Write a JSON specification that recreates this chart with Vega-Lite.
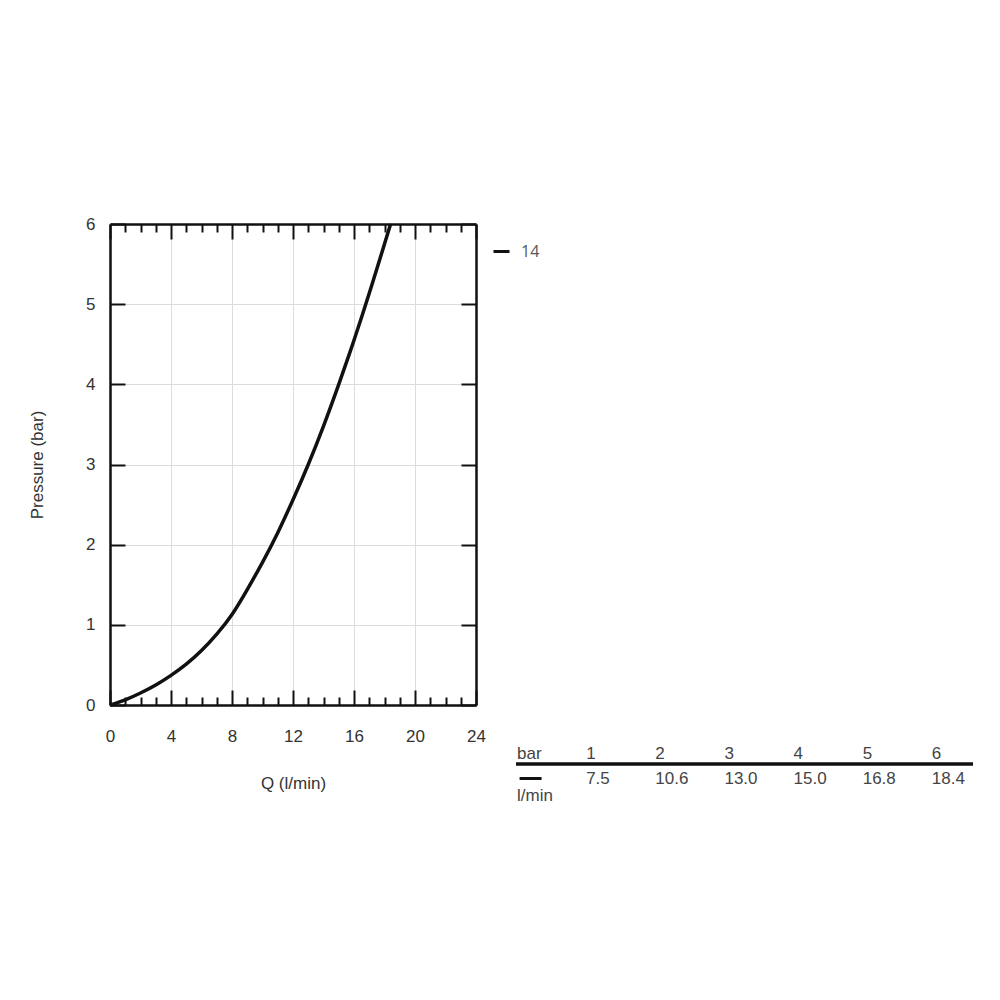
{
  "$schema": "https://vega.github.io/schema/vega-lite/v6.json",
  "background": "white",
  "padding": {"left": 28, "top": 215, "right": 0, "bottom": 0},
  "bounds": "flush",
  "spacing": 40,
  "config": {
    "font": "Liberation Sans",
    "view": {"stroke": null}
  },
  "hconcat": [
    {
      "width": 366,
      "height": 481,
      "data": {
        "values": [
          {"Q": 0, "P": 0, "series": "14"},
          {"Q": 1, "P": 0.065, "series": "14"},
          {"Q": 2, "P": 0.15, "series": "14"},
          {"Q": 3, "P": 0.25, "series": "14"},
          {"Q": 4, "P": 0.37, "series": "14"},
          {"Q": 5, "P": 0.51, "series": "14"},
          {"Q": 6, "P": 0.68, "series": "14"},
          {"Q": 7, "P": 0.885, "series": "14"},
          {"Q": 8, "P": 1.13, "series": "14"},
          {"Q": 9, "P": 1.44, "series": "14"},
          {"Q": 10, "P": 1.78, "series": "14"},
          {"Q": 11, "P": 2.15, "series": "14"},
          {"Q": 12, "P": 2.56, "series": "14"},
          {"Q": 13, "P": 3.0, "series": "14"},
          {"Q": 14, "P": 3.48, "series": "14"},
          {"Q": 15, "P": 4.0, "series": "14"},
          {"Q": 16, "P": 4.55, "series": "14"},
          {"Q": 17, "P": 5.135, "series": "14"},
          {"Q": 18, "P": 5.75, "series": "14"},
          {"Q": 18.4, "P": 6.0, "series": "14"}
        ]
      },
      "layer": [
        {
          "mark": {"type": "line", "strokeWidth": 3.5, "interpolate": "natural"},
          "encoding": {
            "x": {
              "field": "Q", "type": "quantitative",
              "scale": {"domain": [0, 24], "nice": false, "zero": false},
              "axis": {
                "orient": "bottom",
                "values": [0,1,2,3,4,5,6,7,8,9,10,11,12,13,14,15,16,17,18,19,20,21,22,23,24],
                "title": "Q (l/min)",
                "grid": true,
                "gridColor": "#dcdcdc",
                "gridWidth": 1,
                "gridOpacity": {"condition": {"test": "datum.value % 4 === 0", "value": 1}, "value": 0},
                "tickSize": {"condition": {"test": "datum.value % 4 === 0", "value": -15}, "value": -8},
                "tickWidth": 2,
                "tickColor": "#111",
                "domainColor": "#111",
                "domainWidth": 2.5,
                "labelExpr": "datum.value % 4 === 0 ? datum.label : ''",
                "labelFlush": false,
                "labelOverlap": false,
                "labelPadding": 38,
                "labelFont": "Liberation Sans",
                "labelFontSize": 17,
                "labelColor": "#333",
                "titleFont": "Liberation Sans",
                "titleFontSize": 17,
                "titleFontWeight": "normal",
                "titleColor": "#333",
                "titlePadding": 24
              }
            },
            "y": {
              "field": "P", "type": "quantitative",
              "scale": {"domain": [0, 6], "nice": false},
              "axis": {
                "orient": "left",
                "values": [0,1,2,3,4,5,6],
                "title": "Pressure (bar)",
                "grid": true,
                "gridColor": "#dcdcdc",
                "gridWidth": 1,
                "tickSize": -15,
                "tickWidth": 2,
                "tickColor": "#111",
                "domainColor": "#111",
                "domainWidth": 2.5,
                "labelPadding": 30,
                "labelFont": "Liberation Sans",
                "labelFontSize": 17,
                "labelColor": "#333",
                "titleFont": "Liberation Sans",
                "titleFontSize": 17,
                "titleFontWeight": "normal",
                "titleColor": "#333",
                "titlePadding": 39
              }
            },
            "stroke": {
              "field": "series", "type": "nominal",
              "scale": {"range": ["#111"]},
              "legend": {
                "orient": "none",
                "legendX": 382,
                "legendY": 18,
                "title": null,
                "symbolType": "stroke",
                "symbolSize": 256,
                "symbolStrokeWidth": 3,
                "labelFont": "Open Sans",
                "labelFontSize": 16,
                "labelColor": "#5a5560",
                "labelOffset": 10
              }
            }
          }
        },
        {
          "mark": {"type": "point", "opacity": 0},
          "encoding": {
            "x": {
              "field": "Q", "type": "quantitative",
              "axis": {
                "orient": "top",
                "values": [0,1,2,3,4,5,6,7,8,9,10,11,12,13,14,15,16,17,18,19,20,21,22,23,24],
                "title": null,
                "labels": false,
                "grid": false,
                "tickSize": {"condition": {"test": "datum.value % 4 === 0", "value": -15}, "value": -8},
                "tickWidth": 2,
                "tickColor": "#111",
                "domainColor": "#111",
                "domainWidth": 2.5
              }
            },
            "y": {
              "field": "P", "type": "quantitative",
              "axis": {
                "orient": "right",
                "values": [0,1,2,3,4,5,6],
                "title": null,
                "labels": false,
                "grid": false,
                "tickSize": -15,
                "tickWidth": 2,
                "tickColor": "#111",
                "domainColor": "#111",
                "domainWidth": 2.5
              }
            }
          }
        }
      ],
      "resolve": {"axis": {"x": "independent", "y": "independent"}}
    },
    {
      "width": 484,
      "height": 63,
      "data": {
        "values": [
          {"col": "label", "row": "head", "text": "bar"},
          {"col": "c1", "row": "head", "text": "1"},
          {"col": "c2", "row": "head", "text": "2"},
          {"col": "c3", "row": "head", "text": "3"},
          {"col": "c4", "row": "head", "text": "4"},
          {"col": "c5", "row": "head", "text": "5"},
          {"col": "c6", "row": "head", "text": "6"},
          {"col": "c1", "row": "val", "text": "7.5"},
          {"col": "c2", "row": "val", "text": "10.6"},
          {"col": "c3", "row": "val", "text": "13.0"},
          {"col": "c4", "row": "val", "text": "15.0"},
          {"col": "c5", "row": "val", "text": "16.8"},
          {"col": "c6", "row": "val", "text": "18.4"},
          {"col": "label", "row": "unit", "text": "l/min"}
        ]
      },
      "layer": [
        {
          "transform": [{"filter": "datum.row !== 'val'"}],
          "mark": {"type": "text", "align": "left", "baseline": "middle", "font": "Liberation Sans", "fontSize": 17, "color": "#444", "dx": 1, "yOffset": 519},
          "encoding": {
            "x": {
              "field": "col", "type": "nominal", "bandPosition": 0, "sort": null,
              "scale": {"domain": ["label","c1","c2","c3","c4","c5","c6"], "paddingInner": 0, "paddingOuter": 0},
              "axis": null
            },
            "y": {
              "field": "row", "type": "nominal", "sort": null,
              "scale": {"domain": ["head","val","unit"], "paddingInner": 0, "paddingOuter": 0},
              "axis": null
            },
            "text": {"field": "text"}
          }
        },
        {
          "transform": [{"filter": "datum.row === 'val'"}],
          "mark": {"type": "text", "align": "left", "baseline": "middle", "font": "Liberation Sans", "fontSize": 17, "color": "#444", "dx": 1, "yOffset": 523},
          "encoding": {
            "x": {
              "field": "col", "type": "nominal", "bandPosition": 0, "sort": null,
              "scale": {"domain": ["label","c1","c2","c3","c4","c5","c6"], "paddingInner": 0, "paddingOuter": 0},
              "axis": null
            },
            "y": {
              "field": "row", "type": "nominal", "sort": null,
              "scale": {"domain": ["head","val","unit"], "paddingInner": 0, "paddingOuter": 0},
              "axis": null
            },
            "text": {"field": "text"}
          }
        },
        {
          "data": {"values": [{"part": "rule"}]},
          "mark": {"type": "rule", "strokeWidth": 3.5, "color": "#111", "yOffset": 519},
          "encoding": {
            "x": {
              "datum": "label", "type": "nominal", "bandPosition": 0,
              "scale": {"domain": ["label","c1","c2","c3","c4","c5","c6"], "paddingInner": 0, "paddingOuter": 0},
              "axis": null
            },
            "x2": {"datum": "c6", "bandPosition": 0.61},
            "y": {
              "datum": "val", "type": "nominal", "bandPosition": 0,
              "scale": {"domain": ["head","val","unit"], "paddingInner": 0, "paddingOuter": 0},
              "axis": null
            }
          }
        },
        {
          "data": {"values": [{"series": "14"}]},
          "mark": {"type": "tick", "orient": "horizontal", "size": 22, "thickness": 3, "color": "#111", "opacity": 1, "xOffset": -20, "yOffset": 523},
          "encoding": {
            "x": {
              "datum": "label", "type": "nominal",
              "scale": {"domain": ["label","c1","c2","c3","c4","c5","c6"], "paddingInner": 0, "paddingOuter": 0},
              "axis": null
            },
            "y": {
              "datum": "val", "type": "nominal",
              "scale": {"domain": ["head","val","unit"], "paddingInner": 0, "paddingOuter": 0},
              "axis": null
            }
          }
        }
      ]
    }
  ]
}
